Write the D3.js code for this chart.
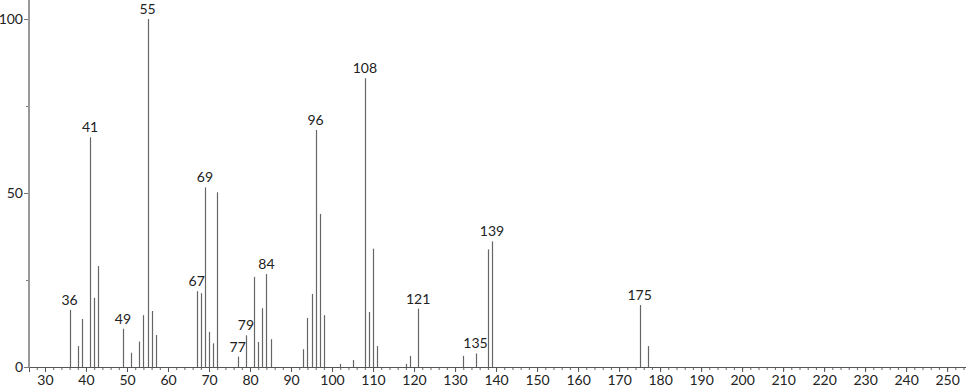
<!DOCTYPE html>
<html>
<head>
<meta charset="utf-8">
<script src="https://cdn.jsdelivr.net/npm/d3@7/dist/d3.min.js"></script>
<style>
  body { margin: 0; background: #fff; }
  svg { display: block; }
  text { font-family: Lato, "DejaVu Sans", sans-serif; fill: #222; }
</style>
</head>
<body>
<div id="spectrum"></div>
<script>
// m/z values and relative intensities (%)
var mz = [36, 38, 39, 41, 42, 43, 49, 51, 53, 54, 55, 56, 57,
  67, 68, 69, 70, 71, 72, 77, 79, 81, 82, 83, 84, 85,
  93, 94, 95, 96, 97, 98, 102, 105, 108, 109, 110, 111,
  118, 119, 121, 132, 135, 138, 139, 175, 177];
var intensity = [16.4, 6.0, 13.8, 66, 19.9, 29, 11, 4.1, 7.3, 14.9, 100, 16.1, 9.2,
  21.8, 21.2, 51.6, 10.1, 6.8, 50.2, 3.0, 9.1, 25.9, 7.2, 16.9, 26.7, 8.0,
  5.1, 14.1, 21.0, 68.1, 44.0, 14.9, 0.9, 2.0, 83.0, 15.8, 34.0, 6.0,
  0.9, 3.2, 16.8, 3.2, 3.9, 33.8, 36.1, 17.8, 6.0];
// peaks that carry a label
var labeled = [36, 41, 49, 55, 67, 69, 77, 79, 84, 96, 108, 121, 135, 139, 175];
var xMajor = d3.range(30, 251, 10);
var xMinor = d3.range(28, 255, 2);
var yMajor = [0, 50, 100];
var yMinor = [25, 75];

var width = 966, height = 389;
var margin = { left: 29, bottom: 22 };

var x = d3.scaleLinear().domain([26.1, 254.6]).range([margin.left, width]);
var y = d3.scaleLinear().domain([0, 100]).range([height - margin.bottom, 19]);

var peaks = mz.map(function (m, i) {
  return { mz: m, v: intensity[i] };
});

var svg = d3.select("#spectrum")
  .append("svg")
  .attr("width", width)
  .attr("height", height);

// minor x ticks
svg.append("g")
  .attr("transform", "translate(0," + y(0) + ")")
  .call(d3.axisBottom(x).tickValues(xMinor).tickSize(3).tickFormat(""))
  .call(function (g) {
    g.select(".domain").remove();
    g.selectAll("line").attr("stroke", "#666");
  });

// major x ticks + labels
svg.append("g")
  .attr("transform", "translate(0," + y(0) + ")")
  .call(d3.axisBottom(x).tickValues(xMajor).tickSize(5).tickPadding(3))
  .call(function (g) {
    g.select(".domain").attr("stroke", "#555");
    g.selectAll("line").attr("stroke", "#555");
    g.selectAll("text").style("font-size", "14px").attr("fill", "#222");
  });

// y axis
svg.append("g")
  .attr("transform", "translate(" + margin.left + ",0)")
  .call(d3.axisLeft(y).tickValues(yMinor).tickSize(3).tickFormat(""))
  .call(function (g) {
    g.select(".domain").remove();
    g.selectAll("line").attr("stroke", "#777");
  });

svg.append("g")
  .attr("transform", "translate(" + margin.left + ",0)")
  .call(d3.axisLeft(y).tickValues(yMajor).tickSize(5).tickPadding(1))
  .call(function (g) {
    g.select(".domain").remove();
    g.selectAll("line").attr("stroke", "#777");
    g.selectAll("text").style("font-size", "14px").attr("fill", "#222");
  });

svg.append("line")
  .attr("x1", margin.left).attr("x2", margin.left)
  .attr("y1", y(0)).attr("y2", 0)
  .attr("stroke", "#999")
  .attr("stroke-width", 2);

// peaks
svg.append("g")
  .selectAll("line")
  .data(peaks)
  .enter()
  .append("line")
  .attr("x1", function (d) { return Math.round(x(d.mz)) + 0.5; })
  .attr("x2", function (d) { return Math.round(x(d.mz)) + 0.5; })
  .attr("y1", y(0))
  .attr("y2", function (d) { return y(d.v); })
  .attr("stroke", "#666")
  .attr("stroke-width", 1.2);

// peak labels
svg.append("g")
  .selectAll("text")
  .data(peaks.filter(function (d) { return labeled.indexOf(d.mz) >= 0; }))
  .enter()
  .append("text")
  .attr("x", function (d) { return x(d.mz); })
  .attr("y", function (d) { return y(d.v) - 5; })
  .attr("text-anchor", "middle")
  .style("font-size", "14px")
  .text(function (d) { return d.mz; });
</script>
</body>
</html>
